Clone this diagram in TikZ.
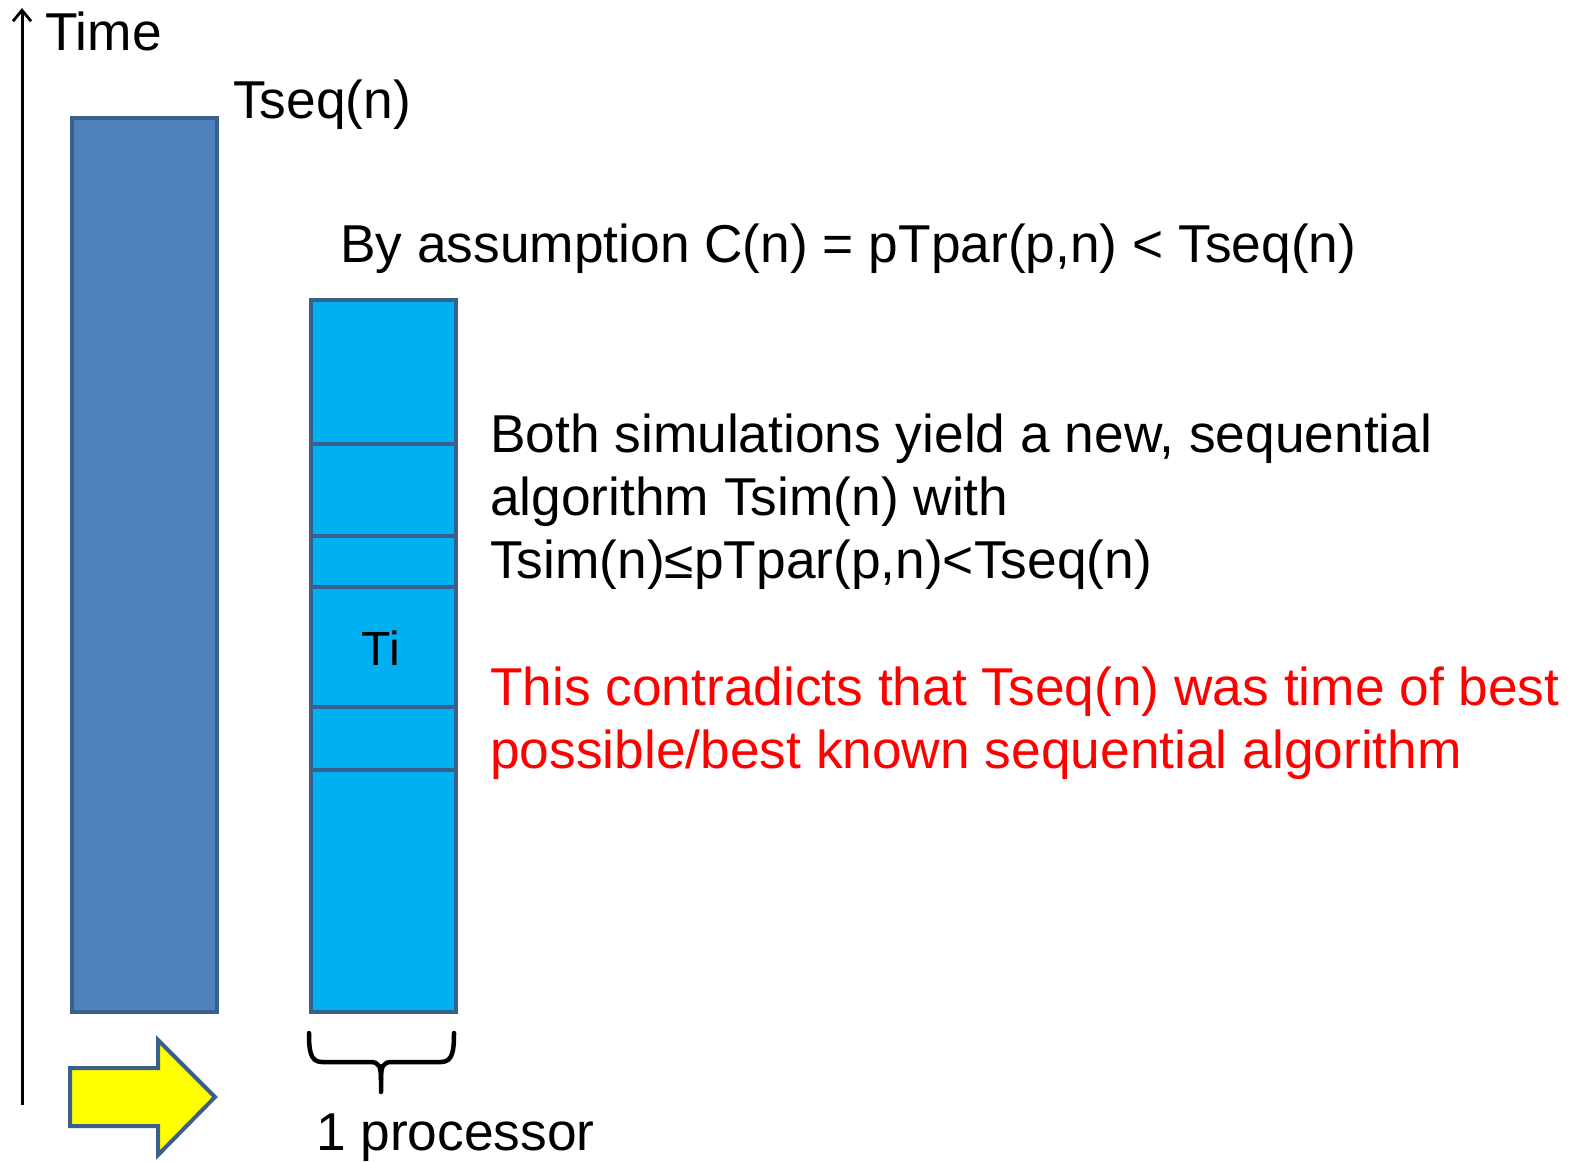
\documentclass[tikz,border=0pt]{standalone}
\usepackage{fontspec}
\setmainfont{Liberation Sans}
\usetikzlibrary{arrows.meta}
\definecolor{darkbar}{HTML}{4F81BD}
\definecolor{lightbar}{HTML}{00B0F0}
\definecolor{barline}{HTML}{3A5F8B}
\definecolor{arrowyellow}{HTML}{FFFF00}
\tikzset{
  txt/.style={anchor=base west, inner sep=0pt, font=\fontsize{53.3}{64}\selectfont},
  bar/.style={draw=barline, line width=3.5pt},
  sep/.style={draw=barline, line width=3.5pt},
}
\begin{document}
\begin{tikzpicture}[x=1pt,y=-1pt]
\useasboundingbox (0,0) rectangle (1574,1162);
% time axis
\coordinate (axb) at (22,1105);
\coordinate (axt) at (22,8);
\draw[line width=3pt, -{Straight Barb[length=11pt,width=18pt,line width=2.8pt]}] (axb) -- (axt);
\node[txt] (time) at (45,50) {Time};
% sequential bar
\node[bar, fill=darkbar, minimum width=145pt, minimum height=894pt, inner sep=0pt, anchor=north west] (seq) at (70,116) {};
\node[txt] (tseq) at (233,118) {Tseq(n)};
% simulated bar
\node[bar, fill=lightbar, minimum width=145pt, minimum height=712pt, inner sep=0pt, anchor=north west] (sim) at (309,298) {};
\foreach \yy in {444,536,587,707,770}{
  \draw[sep] (sim.west |- 0,\yy) -- (sim.east |- 0,\yy);
}
\node[anchor=base, inner sep=0pt, font=\fontsize{48}{58}\selectfont] (ti) at (381,665) {Ti};
\node[txt] (assume) at (340,262) {By assumption C(n) = pTpar(p,n) < Tseq(n)};
\node[txt] (b1) at (490,452) {Both simulations yield a new, sequential};
\node[txt] (b2) at (490,515) {algorithm Tsim(n) with};
\node[txt] (b3) at (490,578) {Tsim(n)≤pTpar(p,n)<Tseq(n)};
\node[txt, text=red] (r1) at (490,705) {This contradicts that Tseq(n) was time of best};
\node[txt, text=red] (r2) at (490,768) {possible/best known sequential algorithm};
% brace
\draw[line width=4.5pt, line cap=round] (309,1033) .. controls (309,1050) and (310,1062) .. (322,1062)
  -- (370,1062) .. controls (379,1062) and (381,1066) .. (381,1080) -- (381,1092);
\draw[line width=4.5pt, line cap=round] (454,1033) .. controls (454,1050) and (453,1062) .. (441,1062)
  -- (392,1062) .. controls (383,1062) and (381,1066) .. (381,1080);
\node[txt] (proc) at (316,1150) {1 processor};
% yellow arrow
\draw[draw=barline, line width=4pt, fill=arrowyellow, line join=miter]
  (70,1068) -- (158,1068) -- (158,1040) -- (215,1097) -- (158,1155) -- (158,1126) -- (70,1126) -- cycle;
\end{tikzpicture}
\end{document}
